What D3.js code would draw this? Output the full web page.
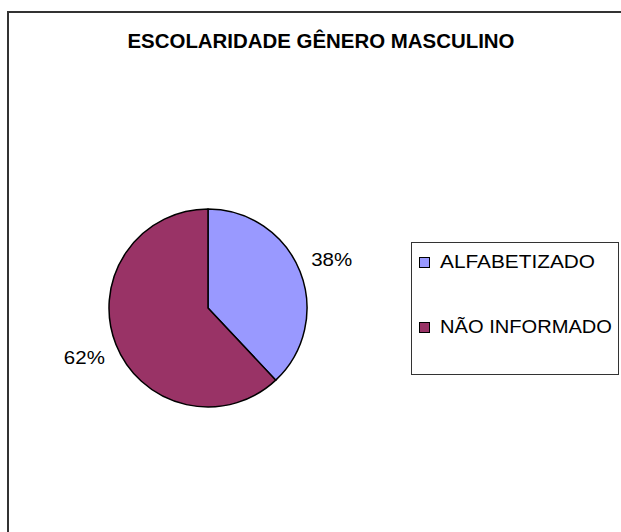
<!DOCTYPE html>
<html>
<head>
<meta charset="utf-8">
<script src="https://cdn.jsdelivr.net/npm/d3@7"></script>
<style>
    body { margin: 0; background: #fff; }
    text { font-family: "Liberation Sans", Arial, sans-serif; fill: #000; }
</style>
</head>
<body>
<script>
    var categories = ["ALFABETIZADO", "NÃO INFORMADO"];
    var values = [38, 62];
    var colors = ["#9999FF", "#993366"];
    var title = "ESCOLARIDADE GÊNERO MASCULINO";

    var width = 621, height = 532;
    var svg = d3.select("body").append("svg")
        .attr("width", width)
        .attr("height", height);

    // outer chart frame (runs off the right and bottom edges)
    svg.append("rect")
        .attr("x", 8).attr("y", 12)
        .attr("width", 640).attr("height", 540)
        .attr("fill", "#fff")
        .attr("stroke", "#333")
        .attr("stroke-width", 2);

    svg.append("text")
        .attr("x", 321).attr("y", 48)
        .attr("text-anchor", "middle")
        .attr("font-size", 21)
        .attr("font-weight", "bold")
        .attr("textLength", 387)
        .attr("lengthAdjust", "spacingAndGlyphs")
        .text(title);

    var data = categories.map(function (c, i) { return { name: c, value: values[i], color: colors[i] }; });
    var total = d3.sum(values);

    var cx = 208, cy = 308, r = 99;
    var pie = d3.pie().sort(null).value(function (d) { return d.value; });
    var arc = d3.arc().innerRadius(0).outerRadius(r);
    var labelArc = d3.arc().innerRadius(133).outerRadius(133);

    var g = svg.append("g").attr("transform", "translate(" + cx + "," + cy + ")");
    var arcs = pie(data);

    g.selectAll("path")
        .data(arcs)
        .enter()
        .append("path")
        .attr("d", arc)
        .attr("fill", function (d) { return d.data.color; })
        .attr("stroke", "#000")
        .attr("stroke-width", 1.5)
        .attr("stroke-linejoin", "round");

    g.selectAll("text.pct")
        .data(arcs)
        .enter()
        .append("text")
        .attr("class", "pct")
        .attr("transform", function (d) { return "translate(" + labelArc.centroid(d) + ")"; })
        .attr("text-anchor", "middle")
        .attr("dy", "0.36em")
        .attr("font-size", 19)
        .attr("textLength", 41)
        .attr("lengthAdjust", "spacingAndGlyphs")
        .text(function (d) { return Math.round(d.data.value / total * 100) + "%"; });

    // legend
    var legend = svg.append("g");
    legend.append("rect")
        .attr("x", 411.5).attr("y", 242.5)
        .attr("width", 207).attr("height", 132)
        .attr("fill", "#fff")
        .attr("stroke", "#333")
        .attr("stroke-width", 1);

    var legendY = d3.scalePoint().domain(categories).range([268, 333]);
    var textLengths = [155, 172];

    var item = legend.selectAll("g.item")
        .data(data)
        .enter()
        .append("g")
        .attr("class", "item")
        .attr("transform", function (d) { return "translate(0," + legendY(d.name) + ")"; });

    item.append("rect")
        .attr("x", 419.5).attr("y", -10.5)
        .attr("width", 10).attr("height", 10)
        .attr("fill", function (d) { return d.color; })
        .attr("stroke", "#000")
        .attr("stroke-width", 1);

    item.append("text")
        .attr("x", 440).attr("y", 0)
        .attr("font-size", 19)
        .attr("textLength", function (d, i) { return textLengths[i]; })
        .attr("lengthAdjust", "spacingAndGlyphs")
        .text(function (d) { return d.name; });
</script>
</body>
</html>
